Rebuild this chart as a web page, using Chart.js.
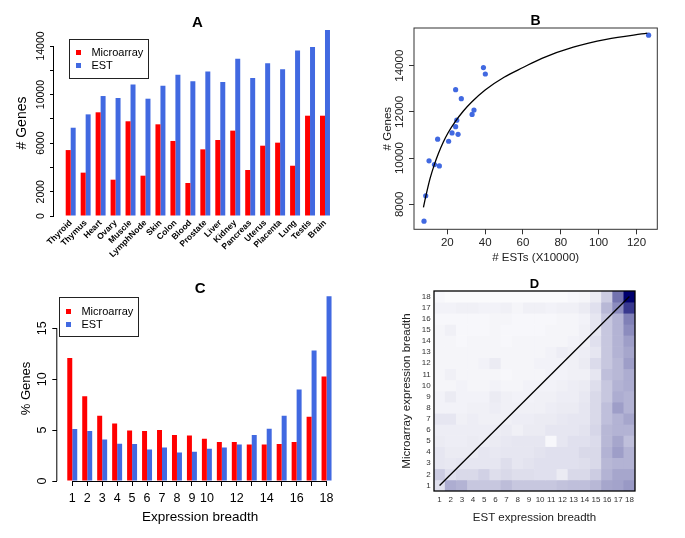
<!DOCTYPE html>
<html>
<head>
<meta charset="utf-8">
<title>Expression breadth</title>
<script src="https://cdn.jsdelivr.net/npm/chart.js@4.4.1/dist/chart.umd.min.js"></script>
<style>
	html, body { margin: 0; padding: 0; background: #fff; }
	body { position: relative; width: 685px; height: 538px; overflow: hidden; font-family: 'Liberation Sans', Arial, sans-serif; }
	canvas { position: absolute; }
	.legend { position: absolute; width: 80px; height: 40px; box-sizing: border-box; border: 1px solid #222; font-size: 11px; color: #000; }
	.legend .row { position: absolute; left: 0; height: 13px; line-height: 13px; width: 78px; }
	.legend .key { position: absolute; left: 5.5px; top: 4px; width: 5px; height: 5px; }
	.legend .lbl { position: absolute; left: 21.4px; top: 0; white-space: nowrap; }
</style>
</head>
<body>
<canvas id="chartA" width="345" height="265" style="left:0;top:0"></canvas>
<canvas id="chartB" width="345" height="268" style="left:340px;top:0"></canvas>
<canvas id="chartC" width="345" height="270" style="left:0;top:268px"></canvas>
<canvas id="chartD" width="345" height="270" style="left:340px;top:268px"></canvas>

<div class="legend" style="left:69px;top:39px">
	<div class="row" style="top:6px"><span class="key" style="background:#ff0000"></span><span class="lbl">Microarray</span></div>
	<div class="row" style="top:19px"><span class="key" style="background:#4169e1"></span><span class="lbl">EST</span></div>
</div>
<div class="legend" style="left:59px;top:297px">
	<div class="row" style="top:7px"><span class="key" style="background:#ff0000"></span><span class="lbl">Microarray</span></div>
	<div class="row" style="top:20px"><span class="key" style="background:#4169e1"></span><span class="lbl">EST</span></div>
</div>

<script>
// panel A / B : genes detected per tissue
const tissues = ['Thyroid', 'Thymus', 'Heart', 'Ovary', 'Muscle', 'LymphNode', 'Skin', 'Colon', 'Blood',
	'Prostate', 'Liver', 'Kidney', 'Pancreas', 'Uterus', 'Placenta', 'Lung', 'Testis', 'Brain'];
const microarrayGenes = [5430, 3570, 8540, 2990, 7800, 3320, 7550, 6180, 2720, 5490, 6260, 7030, 3790, 5790, 6040, 4140, 8260, 8260];
const estGenes = [7270, 8370, 9880, 9720, 10820, 9660, 10730, 11640, 11090, 11890, 11030, 12960, 11360, 12570, 12080, 13640, 13920, 15320];
const estCounts = [7.7, 8.6, 10.35, 13.2, 14.9, 15.8, 20.7, 25.0, 22.5, 33.1, 25.7, 24.4, 24.4, 27.4, 34.1, 40.1, 39.1, 126.4]; // X10000
const genesTicks = [0, 2000, 4000, 6000, 8000, 10000, 12000, 14000];
const genesTickLabels = ['0', '2000', '', '6000', '', '10000', '', '14000'];

// panel B : fitted curve
const fitX = [7.4, 8.6, 10.9, 13.2, 15.3, 17.9, 20.5, 24.1, 28.5, 32.9, 40, 50, 60, 70, 86.6, 104, 125.7];
const fitY = [7870, 8330, 9120, 9730, 10200, 10700, 11110, 11570, 12040, 12430, 12950, 13500, 13920, 14320, 14800, 15140, 15410];
const estTicksX = [20, 40, 60, 80, 100, 120];
const genesTicksB = [8000, 10000, 12000, 14000];

// panel C : % genes by expression breadth
const breadth = [1, 2, 3, 4, 5, 6, 7, 8, 9, 10, 11, 12, 13, 14, 15, 16, 17, 18];
const breadthLabels = ['1', '2', '3', '4', '5', '6', '7', '8', '9', '10', '', '12', '', '14', '', '16', '', '18'];
const microarrayPct = [12.09, 8.33, 6.41, 5.65, 4.97, 4.90, 5.00, 4.51, 4.48, 4.15, 3.82, 3.82, 3.59, 3.59, 3.63, 3.82, 6.31, 10.26];
const estPct = [5.10, 4.90, 4.08, 3.66, 3.63, 3.10, 3.30, 2.81, 2.88, 3.17, 3.30, 3.59, 4.51, 5.13, 6.41, 8.99, 12.81, 18.15];
const pctTicks = [0, 5, 10, 15];

// panel D : relative overlap, rows = microarray breadth 1..18, columns = EST breadth 1..18
const overlapRows = [
	[.12, .32, .30, .22, .22, .22, .26, .22, .22, .22, .22, .24, .25, .25, .28, .35, .36, .40],
	[.20, .12, .15, .15, .18, .13, .15, .13, .13, .12, .12, .08, .15, .15, .20, .30, .35, .35],
	[.10, .09, .10, .10, .10, .10, .13, .10, .11, .12, .12, .12, .12, .13, .15, .28, .30, .30],
	[.10, .08, .08, .08, .10, .09, .10, .10, .10, .11, .12, .12, .12, .15, .15, .30, .38, .30],
	[.08, .07, .07, .08, .07, .08, .09, .10, .10, .10, .03, .10, .12, .12, .14, .28, .35, .25],
	[.07, .07, .07, .07, .07, .07, .08, .06, .08, .08, .10, .10, .10, .11, .16, .28, .30, .30],
	[.10, .10, .06, .07, .06, .06, .06, .07, .07, .08, .08, .09, .10, .10, .15, .25, .30, .35],
	[.05, .05, .05, .06, .06, .07, .06, .06, .06, .06, .07, .08, .08, .10, .15, .25, .38, .30],
	[.05, .08, .05, .05, .05, .08, .06, .05, .05, .06, .06, .07, .07, .09, .15, .22, .32, .30],
	[.04, .04, .05, .04, .04, .05, .04, .04, .05, .05, .05, .06, .07, .08, .13, .22, .30, .32],
	[.04, .06, .04, .04, .04, .04, .03, .04, .04, .04, .05, .05, .06, .06, .10, .25, .28, .32],
	[.04, .04, .04, .04, .05, .08, .04, .04, .04, .05, .05, .05, .06, .08, .14, .22, .28, .38],
	[.04, .04, .04, .04, .04, .04, .04, .04, .04, .04, .05, .07, .06, .07, .10, .22, .30, .35],
	[.04, .04, .03, .04, .04, .04, .03, .04, .04, .04, .04, .04, .05, .06, .12, .22, .30, .38],
	[.04, .06, .03, .03, .03, .04, .03, .03, .03, .03, .04, .04, .04, .06, .10, .22, .30, .45],
	[.03, .03, .03, .03, .03, .04, .04, .03, .03, .03, .03, .04, .04, .05, .10, .22, .30, .50],
	[.05, .05, .06, .06, .05, .05, .06, .04, .06, .06, .05, .06, .06, .08, .12, .28, .45, .78],
	[.03, .02, .02, .02, .02, .02, .02, .02, .02, .02, .02, .02, .03, .04, .08, .20, .55, 1.0]
];

const RED = '#ff0000',
	BLUE = '#4169e1';

Chart.defaults.font.family = "'Liberation Sans', Arial, sans-serif";
Chart.defaults.color = '#000';
Chart.defaults.animation = false;
Chart.defaults.responsive = false;
Chart.defaults.devicePixelRatio = 1;
Chart.defaults.plugins.legend.display = false;
Chart.defaults.plugins.tooltip.enabled = false;

// R style axis line: only from first to last tick
const rAxis = {
	id: 'rAxis',
	afterDraw(chart, args, opts){
		const ctx = chart.ctx;
		ctx.save();
		ctx.strokeStyle = '#000';
		ctx.lineWidth = 1;
		(opts.axes || []).forEach(id=>{
			const s = chart.scales[id];
			const a = s.getPixelForTick(0),
				b = s.getPixelForTick(s.ticks.length - 1);
			ctx.beginPath();
			if (s.isHorizontal()){
				ctx.moveTo(a, s.top + 0.5);
				ctx.lineTo(b, s.top + 0.5);
			} else {
				ctx.moveTo(s.right - 0.5, a);
				ctx.lineTo(s.right - 0.5, b);
			}
			ctx.stroke();
		});
		ctx.restore();
	}
};

// box round the plot area
const frame = {
	id: 'frame',
	afterDraw(chart, args, opts){
		const {ctx, chartArea: a} = chart;
		ctx.save();
		ctx.strokeStyle = opts.color || '#000';
		ctx.lineWidth = opts.width || 1;
		ctx.strokeRect(a.left, a.top, a.right - a.left, a.bottom - a.top);
		ctx.restore();
	}
};

function setTicks(values){
	return scale=>{ scale.ticks = values.map(v=>({value: v})); };
}

function panelTitle(text, size, top){
	return {display: true, text: text, fullSize: false, color: '#000',
		font: {size: size, weight: 'bold', lineHeight: 1}, padding: {top: top, bottom: 0}};
}

function heatColor(v){
	const c = Math.round(255 * (1 - v));
	return `rgb(${c}, ${c}, ${Math.round(255 - v * 145)})`;
}

// A : bar chart per tissue
new Chart(document.getElementById('chartA'), {
	type: 'bar',
	data: {
		datasets: [
			{label: 'Microarray', data: tissues.map((t, i)=>({x: i, y: microarrayGenes[i]})), backgroundColor: RED},
			{label: 'EST', data: tissues.map((t, i)=>({x: i, y: estGenes[i]})), backgroundColor: BLUE}
		]
	},
	options: {
		layout: {padding: {left: 0, right: 4, top: 0, bottom: 0}},
		datasets: {bar: {categoryPercentage: 2 / 3, barPercentage: 1}},
		plugins: {
			title: panelTitle('A', 15, 15),
			rAxis: {axes: ['y']}
		},
		scales: {
			x: {
				type: 'linear', min: -1.116, max: 18.07, offset: false,
				grid: {display: false, offset: false, drawTicks: false, tickLength: 0}, border: {display: false},
				afterBuildTicks: setTicks(tissues.map((t, i)=>i)),
				afterFit: s=>{ s.height = 49; },
				ticks: {autoSkip: false, minRotation: 45, maxRotation: 45, padding: 2,
					font: {size: 8.5, weight: 'bold'}, callback: v=>tissues[v]}
			},
			y: {
				min: 0, max: 15318,
				border: {display: false},
				grid: {drawOnChartArea: false, tickLength: 4, color: '#000'},
				afterBuildTicks: setTicks(genesTicks),
				afterFit: s=>{ s.width = 54; },
				ticks: {autoSkip: false, minRotation: 90, maxRotation: 90, crossAlign: 'center', padding: -5.4,
					font: {size: 10.5}, callback: v=>genesTickLabels[genesTicks.indexOf(v)]},
				title: {display: true, text: '# Genes', font: {size: 14}, padding: {top: 13.6, bottom: 0}}
			}
		}
	},
	plugins: [rAxis]
});

// B : genes found vs number of ESTs
new Chart(document.getElementById('chartB'), {
	type: 'scatter',
	data: {
		datasets: [
			{type: 'line', data: fitX.map((x, i)=>({x: x, y: fitY[i]})), borderColor: '#000', borderWidth: 1.3,
				pointRadius: 0, cubicInterpolationMode: 'monotone', fill: false},
			{data: tissues.map((t, i)=>({x: estCounts[i], y: estGenes[i]})), backgroundColor: BLUE,
				borderWidth: 0, pointRadius: 2.6}
		]
	},
	options: {
		layout: {padding: {left: 0, right: 27.7, top: 0, bottom: 0}},
		plugins: {
			title: panelTitle('B', 14, 14),
			frame: {color: '#333', width: 1}
		},
		scales: {
			x: {
				type: 'linear', min: 2.4, max: 131,
				border: {display: false},
				grid: {drawOnChartArea: false, tickLength: 5, color: '#333'},
				afterBuildTicks: setTicks(estTicksX),
				afterFit: s=>{ s.height = 38.7; },
				ticks: {autoSkip: false, padding: 2.1, font: {size: 11.5}, color: '#222', callback: v=>String(v)},
				title: {display: true, text: '# ESTs (X10000)', font: {size: 11.5}, color: '#222', padding: {top: 0, bottom: 3.1}}
			},
			y: {
				type: 'linear', min: 6918, max: 15631,
				border: {display: false},
				grid: {drawOnChartArea: false, tickLength: 5, color: '#333'},
				afterBuildTicks: setTicks(genesTicksB),
				afterFit: s=>{ s.width = 74; },
				ticks: {autoSkip: false, minRotation: 90, maxRotation: 90, crossAlign: 'center', padding: -7,
					font: {size: 11.5}, color: '#222', callback: v=>String(v)},
				title: {display: true, text: '# Genes', font: {size: 11.5}, color: '#222', padding: {top: 40.8, bottom: 0}}
			}
		}
	},
	plugins: [frame]
});

// C : distribution of expression breadth
new Chart(document.getElementById('chartC'), {
	type: 'bar',
	data: {
		datasets: [
			{label: 'Microarray', data: breadth.map((b, i)=>({x: b, y: microarrayPct[i]})), backgroundColor: RED},
			{label: 'EST', data: breadth.map((b, i)=>({x: b, y: estPct[i]})), backgroundColor: BLUE}
		]
	},
	options: {
		layout: {padding: {left: 0, right: 2, top: 0, bottom: 0}},
		datasets: {bar: {categoryPercentage: 2 / 3, barPercentage: 1}},
		plugins: {
			title: panelTitle('C', 15, 13),
			rAxis: {axes: ['x', 'y']}
		},
		scales: {
			x: {
				type: 'linear', min: 0, max: 19.1, offset: false,
				grid: {drawOnChartArea: false, tickLength: 5, color: '#000', offset: false},
				border: {display: false},
				afterBuildTicks: setTicks(breadth),
				afterFit: s=>{ s.height = 57; },
				ticks: {autoSkip: false, maxRotation: 0, padding: 4.8, font: {size: 12.5},
					callback: v=>breadthLabels[v - 1]},
				title: {display: true, text: 'Expression breadth', font: {size: 13.5}, padding: {top: 0, bottom: 12.9}}
			},
			y: {
				min: 0, max: 18.17,
				border: {display: false},
				grid: {drawOnChartArea: false, tickLength: 5, color: '#000'},
				afterBuildTicks: setTicks(pctTicks),
				afterFit: s=>{ s.width = 57.3; },
				ticks: {autoSkip: false, minRotation: 90, maxRotation: 90, crossAlign: 'center', padding: 2.65,
					font: {size: 12.5}, callback: v=>String(v)},
				title: {display: true, text: '% Genes', font: {size: 13}, padding: {top: 18.2, bottom: 0}}
			}
		}
	},
	plugins: [rAxis]
});

// D : microarray vs EST breadth heat map
const cells = [],
	cellColors = [];
overlapRows.forEach((row, r)=>{
	row.forEach((v, c)=>{
		cells.push({x: breadth[c], y: [breadth[r] - 0.5, breadth[r] + 0.5]});
		cellColors.push(heatColor(v));
	});
});

new Chart(document.getElementById('chartD'), {
	type: 'bar',
	data: {
		datasets: [
			{type: 'line', data: [{x: breadth[0], y: breadth[0]}, {x: breadth[17], y: breadth[17]}],
				borderColor: '#000', borderWidth: 1.3, pointRadius: 0},
			{type: 'bar', data: cells, backgroundColor: cellColors, borderWidth: 0,
				categoryPercentage: 1, barPercentage: 1}
		]
	},
	options: {
		layout: {padding: {left: 0, right: 50, top: 0, bottom: 0}},
		plugins: {
			title: panelTitle('D', 13, 10),
			frame: {color: '#000', width: 1.3}
		},
		scales: {
			x: {
				type: 'linear', min: 0.5, max: 18.5, offset: false,
				grid: {display: false, offset: false, drawTicks: false, tickLength: 0}, border: {display: false},
				afterBuildTicks: setTicks(breadth),
				afterFit: s=>{ s.height = 47; },
				ticks: {autoSkip: false, maxRotation: 0, padding: 4.2, font: {size: 8}, color: '#333', callback: v=>String(v)},
				title: {display: true, text: 'EST expression breadth', font: {size: 11.5}, color: '#222', padding: {top: 0, bottom: 13.1}}
			},
			y: {
				type: 'linear', min: 0.5, max: 18.5,
				grid: {display: false, drawTicks: false, tickLength: 0}, border: {display: false},
				afterBuildTicks: setTicks(breadth),
				afterFit: s=>{ s.width = 94; },
				ticks: {autoSkip: false, padding: 3.3, font: {size: 8}, color: '#333', callback: v=>String(v)},
				title: {display: true, text: 'Microarray expression breadth', font: {size: 11.5}, color: '#222', padding: {top: 59.8, bottom: 0}}
			}
		}
	},
	plugins: [frame]
});
</script>
</body>
</html>
